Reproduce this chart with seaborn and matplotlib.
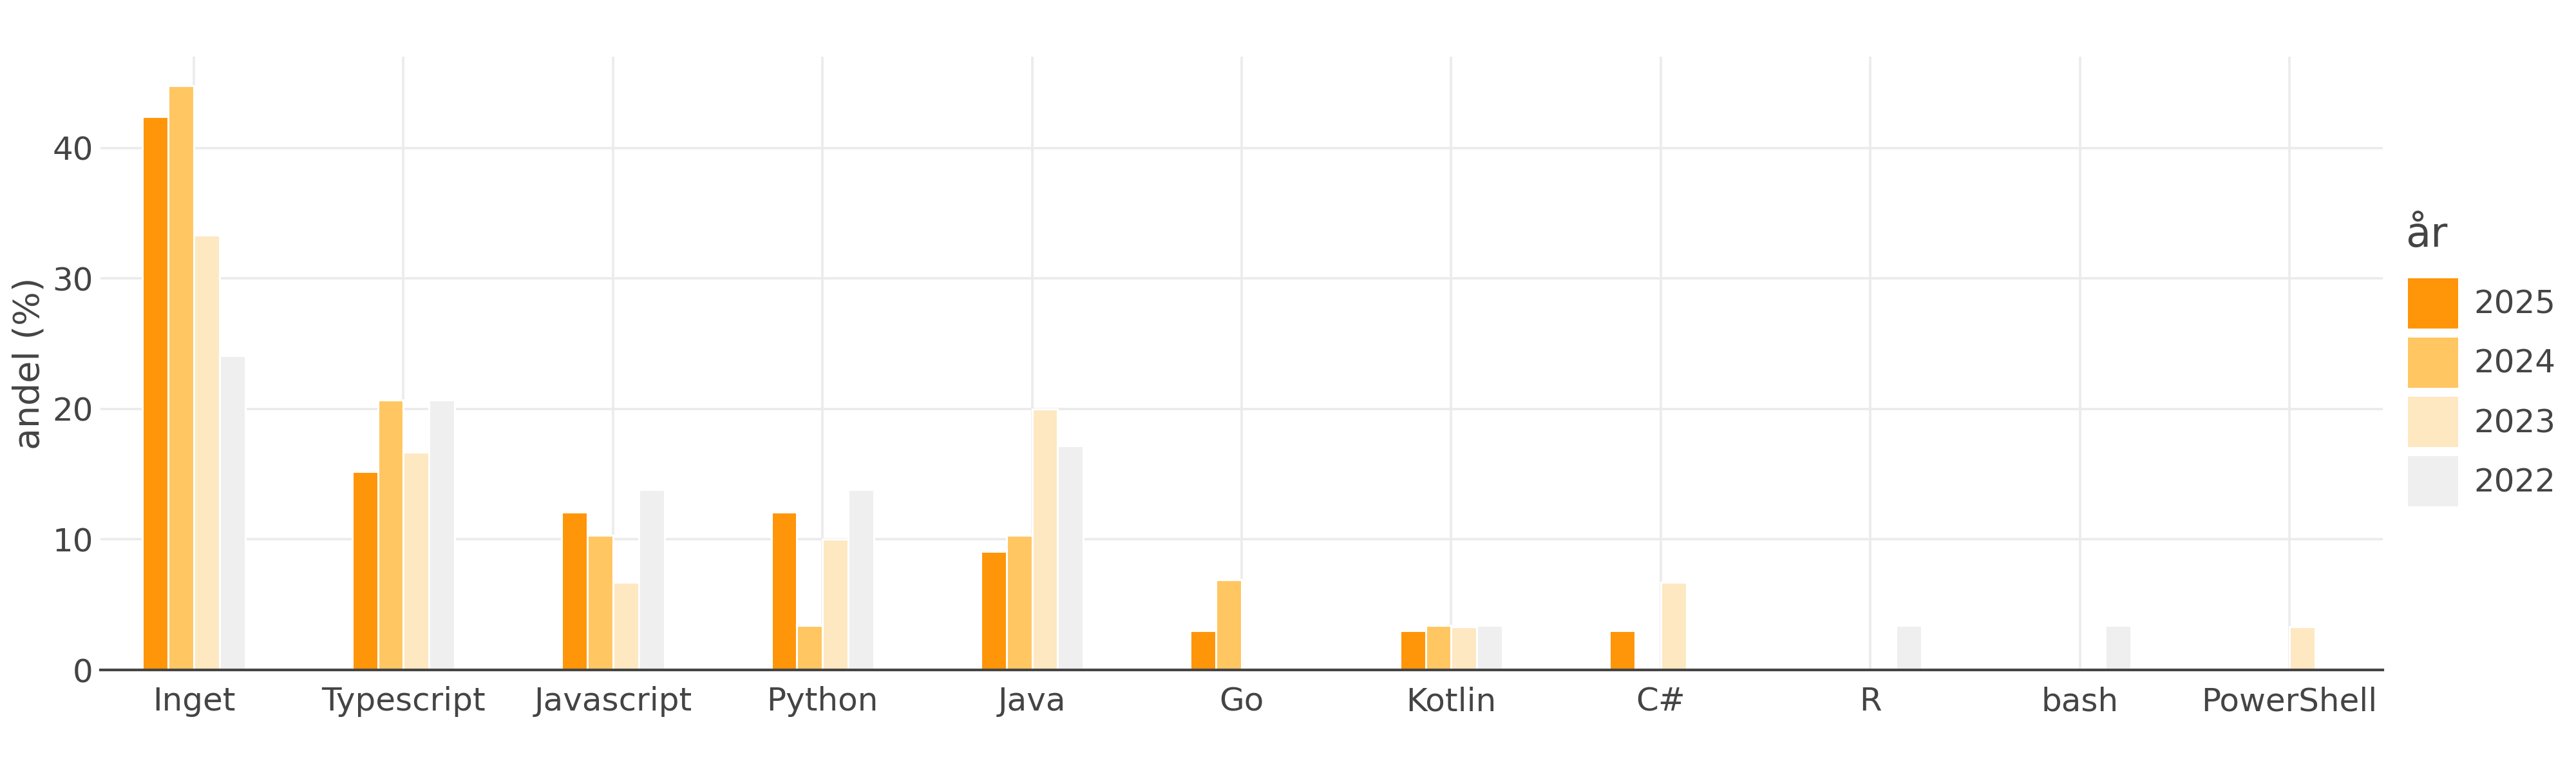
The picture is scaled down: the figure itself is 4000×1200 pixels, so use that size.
import pandas as pd
import seaborn as sns
import matplotlib.pyplot as plt
from matplotlib.patches import Patch

# share of respondents (%) per language and year
languages = ['Inget', 'Typescript', 'Javascript', 'Python', 'Java', 'Go',
             'Kotlin', 'C#', 'R', 'bash', 'PowerShell']
years = ['2025', '2024', '2023', '2022']

share_2025 = {'Inget': 42.4, 'Typescript': 15.2, 'Javascript': 12.1, 'Python': 12.1,
              'Java': 9.1, 'Go': 3.0, 'Kotlin': 3.0, 'C#': 3.0}
share_2024 = {'Inget': 44.8, 'Typescript': 20.7, 'Javascript': 10.3, 'Python': 3.4,
              'Java': 10.3, 'Go': 6.9, 'Kotlin': 3.4}
share_2023 = {'Inget': 33.3, 'Typescript': 16.7, 'Javascript': 6.7, 'Python': 10.0,
              'Java': 20.0, 'Kotlin': 3.3, 'C#': 6.7, 'PowerShell': 3.3}
share_2022 = {'Inget': 24.1, 'Typescript': 20.7, 'Javascript': 13.8, 'Python': 13.8,
              'Java': 17.2, 'Kotlin': 3.4, 'R': 3.4, 'bash': 3.4}

colors = ['#FF9509', '#FFC661', '#FEE8C2', '#EFEFEF']
TEXT = '#444444'

rows = []
for year, shares in zip(years, [share_2025, share_2024, share_2023, share_2022]):
    for lang, val in shares.items():
        rows.append({'språk': lang, 'år': year, 'andel': val})
df = pd.DataFrame(rows)

sns.set_theme(style='white')
plt.rcParams['font.family'] = ['DejaVu Sans']
plt.rcParams['text.color'] = TEXT
plt.rcParams['axes.labelcolor'] = TEXT
plt.rcParams['xtick.color'] = TEXT
plt.rcParams['ytick.color'] = TEXT

fig = plt.figure(figsize=(20, 6), dpi=200)
ax = fig.add_axes([0.039, 0.1333, 0.886, 0.7934])

sns.barplot(data=df, x='språk', y='andel', hue='år', order=languages,
            hue_order=years, palette=colors, width=0.49, saturation=1,
            edgecolor='white', linewidth=1.1, ax=ax, legend=False, zorder=2)

ax.set_xlim(-0.446, len(languages) - 1 + 0.446)
ax.set_ylim(0, 47)
ax.set_yticks([0, 10, 20, 30, 40])
ax.grid(True, color='#EBEBEB', linewidth=1.3, zorder=0)
ax.set_axisbelow(True)

for side in ['left', 'right', 'top']:
    ax.spines[side].set_visible(False)
ax.spines['bottom'].set_color(TEXT)
ax.spines['bottom'].set_linewidth(1.5)
ax.spines['bottom'].set_zorder(5)

ax.tick_params(axis='x', length=6, width=0.8, color=TEXT, pad=3, labelsize=18)
ax.tick_params(axis='y', length=0, pad=4, labelsize=18)

ax.set_xlabel('')
ax.set_ylabel('andel (%)', fontsize=20)
ax.yaxis.set_label_coords(-0.0235, 0.5)

# legend title placed by hand, entries below it
fig.text(3735 / 4000, 1 - 383 / 1200, 'år', fontsize=23, va='baseline', ha='left')
handles = [Patch(facecolor=c, edgecolor='none') for c in colors]
leg = fig.legend(handles, years, loc='upper left',
                 bbox_to_anchor=(3739 / 4000, 1 - 432 / 1200),
                 frameon=False, fontsize=18,
                 handlelength=1.55, handleheight=2.025, labelspacing=0.28,
                 handletextpad=0.5, borderpad=0, borderaxespad=0)

fig.savefig('out.png', dpi=200)
